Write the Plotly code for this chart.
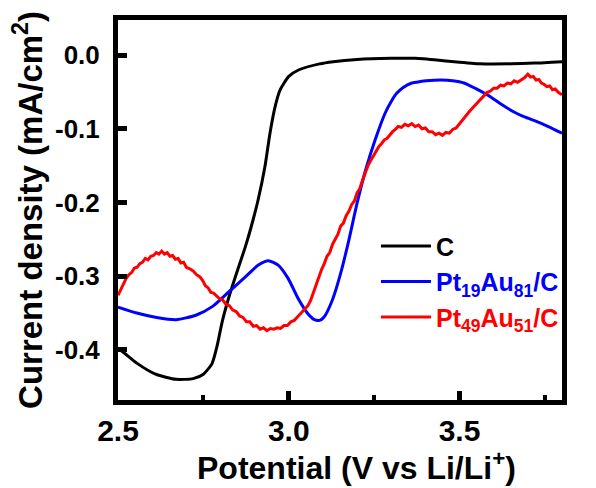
import plotly.graph_objects as go

# ---- data ----
x_c = [2.50, 2.52, 2.555, 2.61, 2.67, 2.72, 2.75, 2.775, 2.79, 2.805, 2.825, 2.85, 2.873, 2.89, 2.91,
       2.93, 2.945, 2.96, 2.975, 3.0, 3.03, 3.09, 3.13, 3.2, 3.3, 3.37, 3.46, 3.56, 3.65, 3.72, 3.8]
y_c = [-0.398, -0.405, -0.418, -0.433, -0.440, -0.439, -0.433, -0.419, -0.395, -0.362, -0.328, -0.292,
       -0.260, -0.233, -0.197, -0.152, -0.106, -0.070, -0.047, -0.029, -0.020, -0.012, -0.009, -0.006,
       -0.0045, -0.0045, -0.008, -0.012, -0.012, -0.011, -0.009]

x_b = [2.50, 2.555, 2.613, 2.67, 2.728, 2.777, 2.825, 2.873, 2.911, 2.94, 2.969, 2.998, 3.027, 3.056,
       3.075, 3.09, 3.104, 3.128, 3.152, 3.176, 3.2, 3.225, 3.253, 3.282, 3.30, 3.316, 3.335, 3.36,
       3.385, 3.403, 3.446, 3.48, 3.513, 3.545, 3.581, 3.62, 3.658, 3.69, 3.725, 3.76, 3.8]
y_b = [-0.342, -0.350, -0.356, -0.359, -0.353, -0.341, -0.321, -0.301, -0.285, -0.279, -0.285, -0.303,
       -0.330, -0.351, -0.359, -0.360, -0.355, -0.332, -0.296, -0.251, -0.201, -0.156, -0.115, -0.079,
       -0.063, -0.052, -0.044, -0.038, -0.036, -0.035, -0.034, -0.035, -0.038, -0.045, -0.054, -0.066,
       -0.077, -0.084, -0.090, -0.097, -0.106]

x_r = [2.500, 2.508, 2.516, 2.524, 2.532, 2.540, 2.548, 2.556, 2.564, 2.572, 2.580, 2.588, 2.596, 2.604,
       2.612, 2.620, 2.628, 2.636, 2.644, 2.652, 2.660, 2.668, 2.676, 2.684, 2.692, 2.700, 2.710, 2.720,
       2.730, 2.740, 2.748, 2.756, 2.764, 2.772, 2.780, 2.788, 2.796, 2.806, 2.816, 2.826, 2.836, 2.846,
       2.856, 2.866, 2.876, 2.886, 2.896, 2.906, 2.916, 2.926, 2.936, 2.946, 2.956, 2.966, 2.976, 2.986,
       2.996, 3.006, 3.016, 3.026, 3.036, 3.046, 3.056, 3.064, 3.072, 3.080, 3.088, 3.096, 3.104, 3.112,
       3.120, 3.128, 3.136, 3.144, 3.152, 3.160, 3.168, 3.176, 3.184, 3.192, 3.200, 3.208, 3.216, 3.224,
       3.232, 3.240, 3.248, 3.256, 3.264, 3.272, 3.280, 3.288, 3.296, 3.304, 3.312, 3.320, 3.330, 3.340,
       3.350, 3.360, 3.370, 3.380, 3.390, 3.400, 3.410, 3.420, 3.430, 3.440, 3.450, 3.460, 3.470, 3.480,
       3.490, 3.500, 3.510, 3.520, 3.530, 3.540, 3.550, 3.560, 3.570, 3.580, 3.590, 3.600, 3.610, 3.620,
       3.630, 3.640, 3.650, 3.660, 3.670, 3.680, 3.690, 3.700, 3.708, 3.716, 3.724, 3.732, 3.740, 3.748,
       3.756, 3.764, 3.772, 3.780, 3.790, 3.800]
y_r = [-0.326, -0.318, -0.309, -0.303, -0.298, -0.295, -0.289, -0.288, -0.283, -0.281, -0.276, -0.278,
       -0.273, -0.272, -0.268, -0.270, -0.266, -0.270, -0.268, -0.273, -0.272, -0.277, -0.276, -0.282,
       -0.281, -0.288, -0.290, -0.293, -0.298, -0.301, -0.306, -0.313, -0.316, -0.322, -0.323, -0.327,
       -0.330, -0.332, -0.338, -0.340, -0.346, -0.348, -0.354, -0.356, -0.362, -0.362, -0.368, -0.367,
       -0.372, -0.370, -0.374, -0.371, -0.372, -0.370, -0.371, -0.367, -0.367, -0.362, -0.360, -0.355,
       -0.350, -0.346, -0.340, -0.333, -0.322, -0.314, -0.302, -0.291, -0.283, -0.273, -0.268, -0.257,
       -0.250, -0.243, -0.232, -0.228, -0.218, -0.212, -0.203, -0.198, -0.187, -0.181, -0.170, -0.160,
       -0.150, -0.143, -0.136, -0.130, -0.124, -0.120, -0.115, -0.113, -0.108, -0.104, -0.101, -0.097,
       -0.098, -0.094, -0.096, -0.093, -0.097, -0.095, -0.100, -0.099, -0.104, -0.104, -0.108, -0.106,
       -0.109, -0.105, -0.106, -0.101, -0.099, -0.093, -0.087, -0.082, -0.076, -0.071, -0.066, -0.061,
       -0.057, -0.051, -0.049, -0.045, -0.045, -0.041, -0.042, -0.038, -0.039, -0.035, -0.037, -0.034,
       -0.031, -0.026, -0.030, -0.029, -0.034, -0.033, -0.038, -0.040, -0.043, -0.042, -0.047, -0.046,
       -0.051, -0.054]

names = ["C",
         "Pt<sub>19</sub>Au<sub>81</sub>/C",
         "Pt<sub>49</sub>Au<sub>51</sub>/C"]
colors = ["#000000", "#0000ff", "#ff0000"]

x_tickvals = [2.5, 3.0, 3.5]
y_tickvals = [0.0, -0.1, -0.2, -0.3, -0.4]

FONT = "Arial, Liberation Sans, sans-serif"

fig = go.Figure()
series = [(x_c, y_c, "spline"), (x_b, y_b, "spline"), (x_r, y_r, "linear")]
for (xs, ys, shp), nm, col in zip(series, names, colors):
    fig.add_trace(go.Scatter(
        x=xs, y=ys, mode="lines",
        line=dict(color=col, width=3, shape=shp, smoothing=0.6 if shp == "spline" else None),
        name=f"<span style='color:{col}'>{nm}</span>",
    ))

axis_common = dict(
    showline=True, linecolor="black", linewidth=5, mirror=True,
    ticks="inside", ticklen=9, tickwidth=5, tickcolor="black",
    showgrid=False, zeroline=False,
)

fig.update_xaxes(
    range=[2.5, 3.8], tickvals=x_tickvals, ticktext=[f"{v:.1f}" for v in x_tickvals],
    tickfont=dict(family=FONT, size=30, color="black", weight="bold"),
    minor=dict(dtick=0.25, tick0=2.5, ticks="inside", ticklen=5, tickwidth=4, tickcolor="black"),
    **axis_common,
)
fig.update_yaxes(
    range=[-0.468, 0.0475], tickvals=y_tickvals, ticktext=[f"{v:.1f}" for v in y_tickvals],
    tickfont=dict(family=FONT, size=26, color="black", weight="bold"),
    ticklabelstandoff=8,
    title=dict(text="Current density (mA/cm<sup>2</sup>)",
               font=dict(family=FONT, size=33, color="black", weight="bold"), standoff=4),
    **axis_common,
)

fig.update_layout(
    width=596, height=488,
    margin=dict(l=118, r=34, t=20, b=88),
    paper_bgcolor="white", plot_bgcolor="white",
    showlegend=True,
    legend=dict(x=0.581, y=0.465, xanchor="left", yanchor="top",
                bgcolor="rgba(0,0,0,0)", borderwidth=0,
                font=dict(family=FONT, size=25, color="black", weight="bold"),
                itemwidth=50, tracegroupgap=0),
    annotations=[dict(
        text="Potential (V vs Li/Li<sup>+</sup>)", xref="paper", yref="paper",
        x=0.538, y=-0.117, xanchor="center", yanchor="top", showarrow=False,
        font=dict(family=FONT, size=32, color="black", weight="bold"),
    )],
)

fig.write_html("out.html")
